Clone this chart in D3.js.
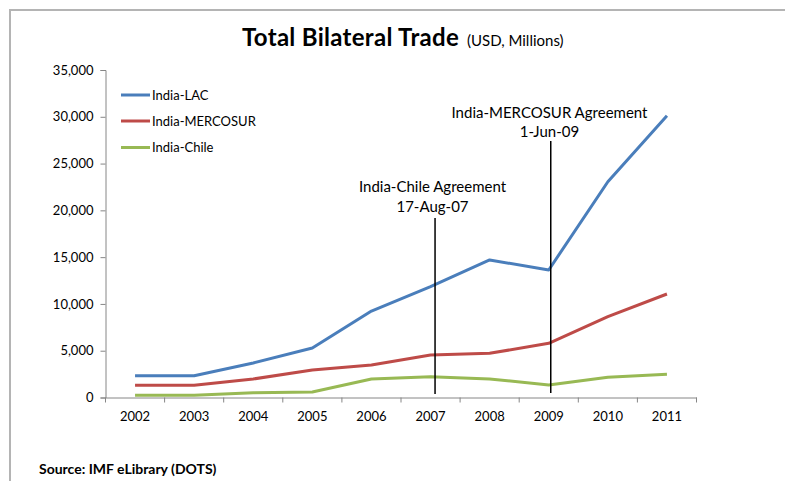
<!DOCTYPE html>
<html>
<head>
<meta charset="utf-8">
<script src="https://cdn.jsdelivr.net/npm/d3@7"></script>
<style>
  html, body { margin: 0; padding: 0; background: #fff; }
  svg { display: block; font-family: Lato, "Open Sans", sans-serif; }
</style>
</head>
<body>
<svg id="chart" width="785" height="481"></svg>
<script>
const years = ["2002","2003","2004","2005","2006","2007","2008","2009","2010","2011"];
const indiaLAC = [2330, 2330, 3690, 5290, 9240, 11840, 14700, 13630, 23060, 30120];
const indiaMERCOSUR = [1300, 1300, 1980, 2940, 3470, 4540, 4720, 5790, 8640, 11060];
const indiaChile = [235, 240, 500, 590, 1980, 2220, 1980, 1340, 2160, 2480];
const seriesNames = ["India-LAC", "India-MERCOSUR", "India-Chile"];
const yTicks = [0, 5000, 10000, 15000, 20000, 25000, 30000, 35000];
const annotations = [
  { year: "2007", label: "India-Chile Agreement", date: "17-Aug-07" },
  { year: "2009", label: "India-MERCOSUR Agreement", date: "1-Jun-09" }
];

const colors = ["#4a7ebb", "#be4b48", "#98b954"];
const series = [indiaLAC, indiaMERCOSUR, indiaChile];

const svg = d3.select("#chart");

// outer frame (top and left edges visible)
svg.append("line").attr("x1", 9).attr("x2", 785).attr("y1", 10).attr("y2", 10)
  .attr("stroke", "#b4b4b4").attr("stroke-width", 2);
svg.append("line").attr("x1", 10).attr("x2", 10).attr("y1", 9).attr("y2", 481)
  .attr("stroke", "#b4b4b4").attr("stroke-width", 2);

const x = d3.scaleBand().domain(years).range([105.5, 696.5]).padding(0);
const y = d3.scaleLinear().domain([0, 35000]).range([397.5, 70]);

// Y axis
const yAxis = svg.append("g").attr("transform", "translate(105.5,0)")
  .call(d3.axisLeft(y).tickValues(yTicks).tickFormat(d3.format(",")).tickSize(5).tickPadding(7));
yAxis.select(".domain").attr("stroke", "#868686");
yAxis.selectAll(".tick line").attr("stroke", "#868686");
yAxis.selectAll("text").attr("font-size", 13).attr("fill", "#000")
  .attr("font-family", "Lato, sans-serif");

// X axis
const xAxis = svg.append("g").attr("transform", "translate(0,397.5)")
  .call(d3.axisBottom(x).tickSize(0).tickPadding(14));
xAxis.select(".domain").attr("stroke", "#868686");
xAxis.selectAll("text").attr("font-size", 13).attr("fill", "#000")
  .attr("font-family", "Lato, sans-serif");
// boundary tick marks
const edges = years.map(d => x(d)).concat([x(years[years.length - 1]) + x.step()]);
xAxis.selectAll(".edge").data(edges).enter().append("line")
  .attr("x1", d => d).attr("x2", d => d).attr("y1", 0).attr("y2", 5)
  .attr("stroke", "#868686");

// lines
const line = d3.line()
  .x((d, i) => x(years[i]) + x.bandwidth() / 2)
  .y(d => y(d));
series.forEach((s, k) => {
  svg.append("path").datum(s)
    .attr("d", line)
    .attr("fill", "none")
    .attr("stroke", colors[k])
    .attr("stroke-width", 3)
    .attr("stroke-linejoin", "round");
});

// annotations
const annStyle = [
  { dx: 4.5, top: 218, bottom: 394, textX: 432.5, ty1: 192, ty2: 212 },
  { dx: 2, top: 141, bottom: 393, textX: 549.5, ty1: 118, ty2: 137 }
];
annotations.forEach((a, i) => {
  const st = annStyle[i];
  const ax = x(a.year) + x.bandwidth() / 2 + st.dx;
  svg.append("line").attr("x1", ax).attr("x2", ax).attr("y1", st.top).attr("y2", st.bottom)
    .attr("stroke", "#000").attr("stroke-width", 1.5);
  svg.append("text").attr("x", st.textX).attr("y", st.ty1).attr("text-anchor", "middle")
    .attr("font-size", 15).attr("fill", "#000").text(a.label);
  svg.append("text").attr("x", st.textX).attr("y", st.ty2).attr("text-anchor", "middle")
    .attr("font-size", 15).attr("fill", "#000").text(a.date);
});

// legend
const legY = [95, 121, 147.5];
seriesNames.forEach((n, i) => {
  svg.append("line").attr("x1", 121).attr("x2", 150).attr("y1", legY[i]).attr("y2", legY[i])
    .attr("stroke", colors[i]).attr("stroke-width", 3);
  svg.append("text").attr("x", 152).attr("y", legY[i] + 4.5).attr("font-size", 13)
    .attr("fill", "#000").text(n);
});

// title
const title = svg.append("text").attr("x", 242).attr("y", 46).attr("fill", "#000");
title.append("tspan").attr("font-size", 24).attr("font-weight", "bold").attr("letter-spacing", 0.3).text("Total Bilateral Trade");
title.append("tspan").attr("font-size", 15).attr("letter-spacing", 0).attr("dx", 8).text("(USD, Millions)");

// source
svg.append("text").attr("x", 39).attr("y", 474).attr("font-size", 14).attr("font-weight", "bold")
  .attr("fill", "#000").text("Source: IMF eLibrary (DOTS)");
</script>
</body>
</html>
